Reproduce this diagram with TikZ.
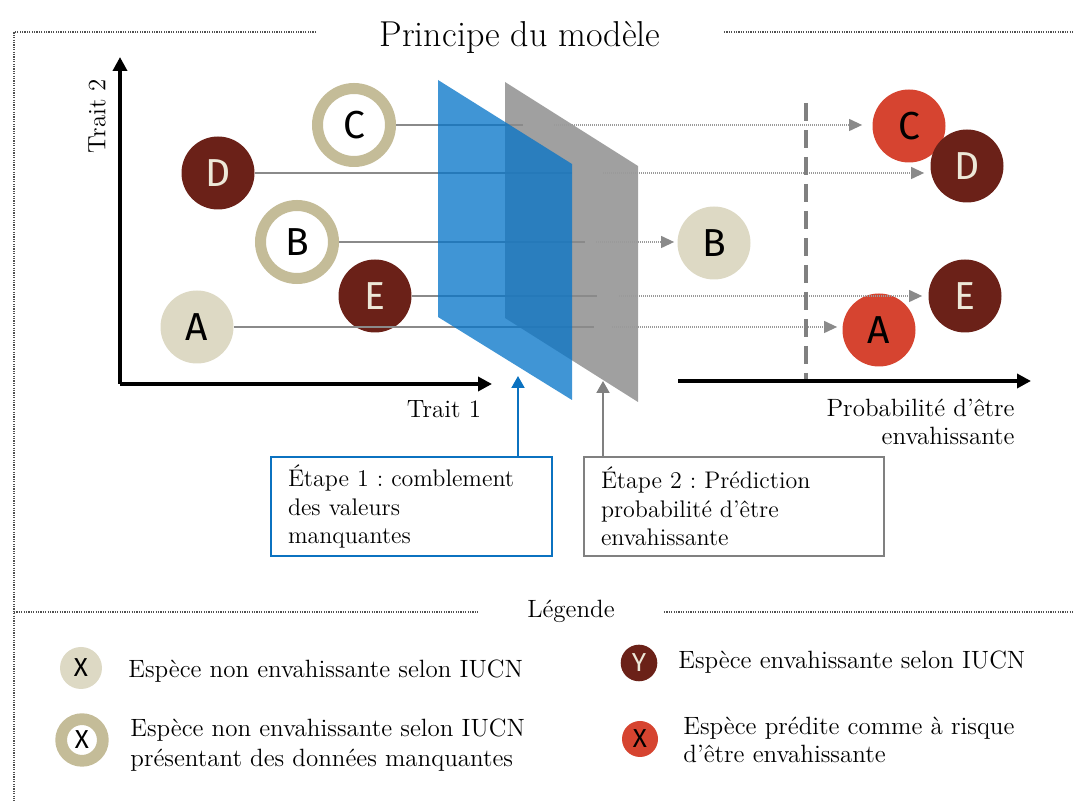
\documentclass[tikz,border=0pt]{standalone}
\usepackage{fontspec}
\newfontfamily\lf{Fira Sans}
\usetikzlibrary{arrows.meta}
\frenchspacing
\definecolor{tanlight}{HTML}{DDD9C4}
\definecolor{ringtan}{HTML}{C4BC98}
\definecolor{darkred}{HTML}{6B2118}
\definecolor{predred}{HTML}{D64430}
\definecolor{cream}{HTML}{EDE8D8}
\definecolor{planeblue}{RGB}{7,117,200}
\definecolor{planegray}{HTML}{A0A0A0}
\definecolor{boxblue}{HTML}{0B72C0}
\definecolor{boxgray}{HTML}{808080}
\definecolor{linegray}{HTML}{8A8A8A}
\definecolor{dotgray}{HTML}{9A9A9A}
\definecolor{framegray}{HTML}{505050}
\begin{document}
\begin{tikzpicture}[x=0.5pt,y=-0.5pt,
  frameline/.style={framegray, line width=0.6pt, dash pattern=on 0.6pt off 0.6pt},
  dot/.style={circle, inner sep=0pt, minimum size=36.5pt, font=\lf\fontsize{19.5}{20}\selectfont},
  nonInv/.style={dot, fill=tanlight, text=black},
  inv/.style={dot, fill=darkred, text=cream},
  pred/.style={dot, fill=predred, text=black},
  missing/.style={dot, fill=white, draw=ringtan, line width=5.5pt, text=black},
  legdot/.style={circle, inner sep=0pt, font=\lf\fontsize{13}{13}\selectfont},
  body/.style={font=\fontsize{12.5}{15}\selectfont, inner sep=0pt},
  axisarrow/.style={line width=2.2pt, -{Triangle[length=7pt,width=7pt]}},
  solidconn/.style={linegray, line width=0.55pt},
  dotconn/.style={dotgray, line width=0.6pt, dash pattern=on 0.5pt off 0.5pt, -{Triangle[length=6.5pt,width=6pt,color=linegray]}},
  stepbox/.style={font=\fontsize{12}{14.3}\selectfont, align=left, inner xsep=8.5pt, inner ysep=2pt, line width=1pt, minimum height=49.5pt, fill=white},
  uparrow/.style={line width=1pt, -{Triangle[length=6pt,width=6.5pt]}}
]
\useasboundingbox (0,0) rectangle (1073,801);

% frame and title
\node[font=\fontsize{18}{20}\selectfont, inner sep=0pt, anchor=base] (title) at (520,47) {Principe du modèle};
\draw[frameline] (316,32) -- (14,32) -- (14,801);
\draw[frameline] (724,32) -- (1073,32);
\node[body, anchor=base] (leg) at (571,618) {Légende};
\draw[frameline] (14,612) -- (479,612);
\draw[frameline] (664,612) -- (1073,612);

% axes
\coordinate (O) at (120,384);
\coordinate (Ytop) at (120,57);
\coordinate (Xend) at (492,384);
\draw[axisarrow] (O) -- (Ytop);
\draw[axisarrow] (O) -- (Xend);
\node[body, rotate=90] (t2) at (97,116) {Trait 2};
\node[body, anchor=base] (t1) at (444,418) {Trait 1};

% gray plane
\fill[planegray] (505,82) -- (638,166) -- (638,402) -- (505,318) -- cycle;

% left species
\node[missing] (C) at (354,125) {C};
\node[inv] (D) at (218,173) {D};
\node[missing] (B) at (297,242) {B};
\node[inv] (E) at (375,296) {E};
\node[nonInv] (A) at (197,327) {A};

% right species
\node[pred] (C2) at (909,126) {C};
\node[inv] (D2) at (967,166) {D};
\node[nonInv] (B2) at (714,243) {B};
\node[inv] (E2) at (965,296) {E};
\node[pred] (A2) at (879,330) {A};

% segment coordinates
\coordinate (c1) at (523,125); \coordinate (c2) at (554,125);
\coordinate (d1) at (572,173); \coordinate (d2) at (603,173);
\coordinate (b1) at (585,242); \coordinate (b2) at (596,242);
\coordinate (e1) at (597,296); \coordinate (e2) at (619,296);
\coordinate (a1) at (594,327); \coordinate (a2) at (612,327);

\draw[solidconn] (C) -- (c1);
\draw[solidconn] (D) -- (d1);
\draw[solidconn] (B) -- (b1);
\draw[solidconn] (E) -- (e1);
\draw[solidconn] (A) -- (a1);

% blue plane
\fill[planeblue, fill opacity=0.77] (438,80) -- (572,164) -- (572,400) -- (438,317) -- cycle;

\draw[dotconn, shorten >=5pt] (c2) -- (c2 -| C2.west);
\draw[dotconn, shorten >=3pt] (d2) -- (d2 -| D2.west);
\draw[dotconn, shorten >=1.5pt] (b2) -- (b2 -| B2.west);
\draw[dotconn, shorten >=3pt] (e2) -- (e2 -| E2.west);
\draw[dotconn, shorten >=2.5pt] (a2) -- (a2 -| A2.west);

% probability axis
\coordinate (P0) at (678,381);
\coordinate (P1) at (1031,381);
\draw[boxgray, line width=2pt, dash pattern=on 9pt off 4.5pt] (806,103) -- (806,379);
\draw[axisarrow] (P0) -- (P1);
\node[body, align=right, anchor=base east, font=\fontsize{12.5}{14}\selectfont] (plab) at (1015,445) {Probabilité d’être\\envahissante};

% step boxes
\node[stepbox, draw=boxblue, text width=123.5pt, anchor=north west] (box1) at (270,456) {Étape 1 : comblement\\des valeurs\\manquantes};
\node[stepbox, draw=boxgray, text width=133pt, anchor=north west] (box2) at (583,456) {Étape 2 : Prédiction\\probabilité d’être\\envahissante};
\coordinate (tip1) at (518,376);
\coordinate (tip2) at (603,381);
\draw[uparrow, boxblue] (box1.north -| tip1) -- (tip1);
\draw[uparrow, boxgray] (box2.north -| tip2) -- (tip2);

% legend
\node[legdot, fill=tanlight, minimum size=21pt] (L1) at (81,668) {X};
\node[body, anchor=base west] (L1t) at (128,678) {Espèce non envahissante selon IUCN};
\node[legdot, fill=white, draw=ringtan, line width=5.85pt, minimum size=20.85pt] (L2) at (82,740) {X};
\node[body, anchor=base west, align=left] (L2t) at (130,767) {Espèce non envahissante selon IUCN\\présentant des données manquantes};
\node[legdot, fill=darkred, text=cream, minimum size=18.3pt] (L3) at (639,663) {Y};
\node[body, anchor=base west] (L3t) at (678,669) {Espèce envahissante selon IUCN};
\node[legdot, fill=predred, minimum size=18pt] (L4) at (640,739) {X};
\node[body, anchor=base west, align=left, font=\fontsize{12.5}{14}\selectfont] (L4t) at (683,763) {Espèce prédite comme à risque\\d’être envahissante};
\end{tikzpicture}
\end{document}
